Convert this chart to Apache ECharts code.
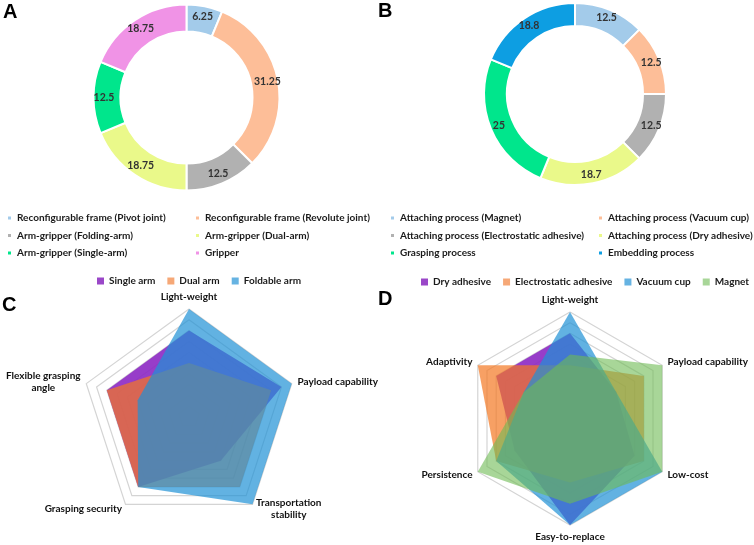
<!DOCTYPE html>
<html><head><meta charset="utf-8">
<script src="https://cdn.jsdelivr.net/npm/echarts@6/dist/echarts.min.js"></script>
<style>html,body{margin:0;padding:0;background:#fff}#c{width:754px;height:545px}</style>
</head><body><div id="c"></div>
<script>
// ---- data ----
const catsA = ['Reconfigurable frame (Pivot joint)', 'Reconfigurable frame (Revolute joint)', 'Arm-gripper (Folding-arm)', 'Arm-gripper (Dual-arm)', 'Arm-gripper (Single-arm)', 'Gripper'];
const valsA = [6.25, 31.25, 12.5, 18.75, 12.5, 18.75];
const catsB = ['Attaching process (Magnet)', 'Attaching process (Vacuum cup)', 'Attaching process (Electrostatic adhesive)', 'Attaching process (Dry adhesive)', 'Grasping process', 'Embedding process'];
const valsB = [12.5, 12.5, 12.5, 18.7, 25, 18.8];

// radar C, indicators clockwise from top
const indC = ['Light-weight', 'Payload capability', 'Transportation stability', 'Grasping security', 'Flexible grasping angle'];
const seriesC = ['Single arm', 'Dual arm', 'Foldable arm'];
const singleArm = [8, 9, 5, 8, 8];
const dualArm = [5, 8, 8, 8, 8];
const foldableArm = [10, 10, 10, 8, 5];

// radar D, indicators clockwise from top
const indD = ['Light-weight', 'Payload capability', 'Low-cost', 'Easy-to-replace', 'Persistence', 'Adaptivity'];
const seriesD = ['Dry adhesive', 'Electrostatic adhesive', 'Vacuum cup', 'Magnet'];
const dryAdhesive = [8, 5, 7, 10, 6, 8];
const electroAdhesive = [5, 8, 8, 6, 8, 10];
const vacuumCup = [10, 5, 10, 10, 8, 5];
const magnet = [6, 10, 10, 8, 10, 5];
const radarMax = 10;

// ---- styles ----
const palA = ['#A3CBEA', '#FDBE98', '#B1B1B1', '#EAF98A', '#00E68C', '#F093E6'];
const palB = ['#A3CBEA', '#FDBE98', '#B1B1B1', '#EAF98A', '#00E68C', '#0D9EE2'];
const areaC = [['rgb(140,40,195)', 0.9], ['rgb(243,119,34)', 0.7], ['rgb(31,145,214)', 0.7]];
const legC = ['#9A47C8', '#F6A877', '#66B3E2'];
const areaD = [['rgb(140,40,195)', 0.9], ['rgb(243,119,34)', 0.7], ['rgb(31,145,214)', 0.7], ['rgb(110,187,83)', 0.6]];
const legD = ['#9A47C8', '#F6A877', '#66B3E2', '#A8D698'];

const FONT = 'Lato';
const txt = {fontFamily: FONT, fontSize: 10, fontWeight: 'bold', color: '#1a1a1a', lineHeight: 12};

function ccwOrder(arr) { // ECharts lays indicators counter-clockwise
  return [arr[0]].concat(arr.slice(1).reverse());
}

function pieSeries(cats, vals, pal, center, radius) {
  return {
    type: 'pie', center: center, radius: radius, startAngle: 90, clockwise: true,
    avoidLabelOverlap: false, silent: true,
    itemStyle: {borderColor: '#fff', borderWidth: 2},
    label: {show: true, position: 'inside', formatter: '{c}', color: '#333', fontFamily: FONT, fontSize: 10.5, fontWeight: 'bold'},
    labelLine: {show: false},
    data: cats.map((n, i) => ({name: n, value: vals[i], itemStyle: {color: pal[i]}}))
  };
}

function pieLegend(names, pal, allNames, left, top) {
  return {
    orient: 'vertical', left: left, top: top, padding: 0, itemWidth: 5, itemHeight: 5, itemGap: 5.5,
    icon: 'rect', selectedMode: false, textStyle: txt,
    data: names.map(n => ({name: n, itemStyle: {color: pal[allNames.indexOf(n)]}}))
  };
}

const rich = {c: {align: 'center', fontFamily: FONT, fontSize: 10, fontWeight: 'bold', color: '#111', lineHeight: 12}};
function radarComp(ind, center, radius) {
  return {
    center: center, radius: radius, startAngle: 90, shape: 'polygon', splitNumber: 10,
    indicator: ccwOrder(ind).map(n => ({name: n, min: 0, max: radarMax})),
    nameGap: 6,
    axisName: {
      color: '#111', fontFamily: FONT, fontSize: 10, fontWeight: 'bold',
      formatter: function (name) {
        const map = {'Flexible grasping angle': ['Flexible grasping', 'angle'], 'Transportation stability': ['Transportation', 'stability']};
        const lines = map[name] || [name];
        return lines.map(l => '{c|' + l + '}').join('\n');
      },
      rich: rich
    },
    splitLine: {lineStyle: {color: '#d4d4d4', width: 1.2}},
    splitArea: {show: false},
    axisLine: {show: false},
    axisTick: {show: false},
    axisLabel: {show: false}
  };
}

function radarSeries(idx, names, arrays, styles, legCols) {
  return {
    type: 'radar', radarIndex: idx, symbol: 'none', silent: true,
    lineStyle: {width: 0},
    data: names.map((n, i) => ({
      name: n, value: ccwOrder(arrays[i]),
      itemStyle: {color: legCols[i]},
      lineStyle: {width: 0},
      areaStyle: {color: styles[i][0], opacity: styles[i][1]}
    }))
  };
}

const chart = echarts.init(document.getElementById('c'), null, {renderer: 'canvas'});
chart.setOption({
  animation: false,
  backgroundColor: '#fff',
  graphic: [
    {type: 'text', left: 3, top: 2, style: {text: 'A', font: 'bold 20px "Liberation Sans"', fill: '#000'}},
    {type: 'text', left: 378, top: 1, style: {text: 'B', font: 'bold 20px "Liberation Sans"', fill: '#000'}},
    {type: 'text', left: 2, top: 295, style: {text: 'C', font: 'bold 20px "Liberation Sans"', fill: '#000'}},
    {type: 'text', left: 378, top: 289, style: {text: 'D', font: 'bold 20px "Liberation Sans"', fill: '#000'}}
  ],
  legend: [
    pieLegend([catsA[0], catsA[2], catsA[4]], palA, catsA, 6, 212),
    pieLegend([catsA[1], catsA[3], catsA[5]], palA, catsA, 194, 212),
    pieLegend([catsB[0], catsB[2], catsB[4]], palB, catsB, 389, 212),
    pieLegend([catsB[1], catsB[3], catsB[5]], palB, catsB, 597, 212),
    {orient: 'horizontal', left: 97, top: 275, padding: 0, itemWidth: 7, itemHeight: 7, itemGap: 12, icon: 'rect', selectedMode: false, textStyle: txt,
      data: seriesC.map((n, i) => ({name: n, itemStyle: {color: legC[i], opacity: 1}}))},
    {orient: 'horizontal', left: 421, top: 276, padding: 0, itemWidth: 7, itemHeight: 7, itemGap: 12, icon: 'rect', selectedMode: false, textStyle: txt,
      data: seriesD.map((n, i) => ({name: n, itemStyle: {color: legD[i], opacity: 1}}))}
  ],
  radar: [
    radarComp(indC, [189, 417], 108),
    radarComp(indD, [570, 418.5], 106.5)
  ],
  series: [
    pieSeries(catsA, valsA, palA, [186.5, 97.5], [66, 93]),
    pieSeries(catsB, valsB, palB, [575, 94], [68, 91]),
    radarSeries(0, seriesC, [singleArm, dualArm, foldableArm], areaC, legC),
    radarSeries(1, seriesD, [dryAdhesive, electroAdhesive, vacuumCup, magnet], areaD, legD)
  ]
});
</script></body></html>
